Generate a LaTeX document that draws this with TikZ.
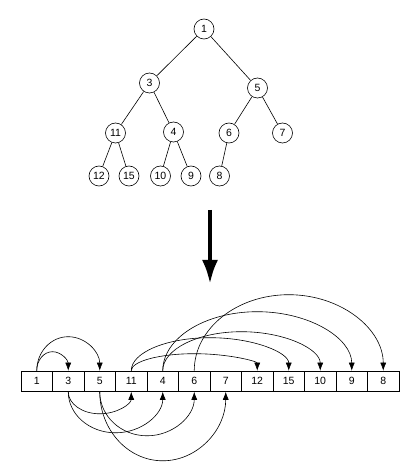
\documentclass[tikz,border=0pt]{standalone}
\usepackage{fontspec}
\setmainfont{Liberation Sans}
\usetikzlibrary{arrows.meta}

\begin{document}
\begin{tikzpicture}[
x=1pt, y=1pt,
line width=0.6pt,
heapnode/.style={
draw,
circle,
minimum size=20pt,
inner sep=0pt,
font=\fontsize{10.5}{11}\selectfont
},
cell/.style={
draw,
minimum width=31.5pt,
minimum height=20.5pt,
inner sep=0pt,
font=\fontsize{10.5}{11}\selectfont
},
link/.style={-{Latex[length=8pt,width=6pt]}}
]
\useasboundingbox (0,0) rectangle (413,475);

% tree
\node[heapnode] (t1) at (204,446) {1};
\node[heapnode] (t3) at (149.5,392) {3};
\node[heapnode] (t5) at (257.5,387) {5};
\node[heapnode] (t11) at (115.5,342) {11};
\node[heapnode] (t4) at (173.5,343) {4};
\node[heapnode] (t6) at (229,342) {6};
\node[heapnode] (t7) at (282.5,342) {7};
\node[heapnode] (t12) at (99,299) {12};
\node[heapnode] (t15) at (129,299) {15};
\node[heapnode] (t10) at (160.5,299) {10};
\node[heapnode] (t9) at (191,299) {9};
\node[heapnode] (t8) at (219.5,299) {8};

\draw (t1) -- (t3);
\draw (t1) -- (t5);
\draw (t3) -- (t11);
\draw (t3) -- (t4);
\draw (t5) -- (t6);
\draw (t5) -- (t7);
\draw (t11) -- (t12);
\draw (t11) -- (t15);
\draw (t4) -- (t10);
\draw (t4) -- (t9);
\draw (t6) -- (t8);

% big arrow
\coordinate (from) at (210,265);
\coordinate (to) at (210,191);
\draw[line width=4pt, -{Latex[length=24pt,width=16pt]}] (from) -- (to);

% array
\foreach \v [count=\i] in {1,3,5,11,4,6,7,12,15,10,9,8}
  \node[cell] (a\i) at ({36.75+31.5*(\i-1)},93.75) {\v};

% arcs above (half ellipses, end on the target cell)
\draw[link] (a1.north) arc[start angle=180, end angle=0, x radius=15.75, y radius=19];
\draw[link] (a1.north) arc[start angle=180, end angle=0, x radius=31.5, y radius=34];
\draw[link] (a4.north) arc[start angle=180, end angle=0, x radius=63, y radius=17];
\draw[link] (a4.north) arc[start angle=180, end angle=0, x radius=78.75, y radius=33];
\draw[link] (a5.north) arc[start angle=180, end angle=0, x radius=78.75, y radius=39];
\draw[link] (a5.north) arc[start angle=180, end angle=0, x radius=94.5, y radius=59];
\draw[link] (a6.north) arc[start angle=180, end angle=0, x radius=94.5, y radius=76];

% arcs below
\draw[link] (a2.south) arc[start angle=180, end angle=360, x radius=31.5, y radius=22];
\draw[link] (a2.south) arc[start angle=180, end angle=360, x radius=47.25, y radius=41];
\draw[link] (a3.south) arc[start angle=180, end angle=360, x radius=47.25, y radius=44];
\draw[link] (a3.south) arc[start angle=180, end angle=360, x radius=63, y radius=69];

\end{tikzpicture}
\end{document}
